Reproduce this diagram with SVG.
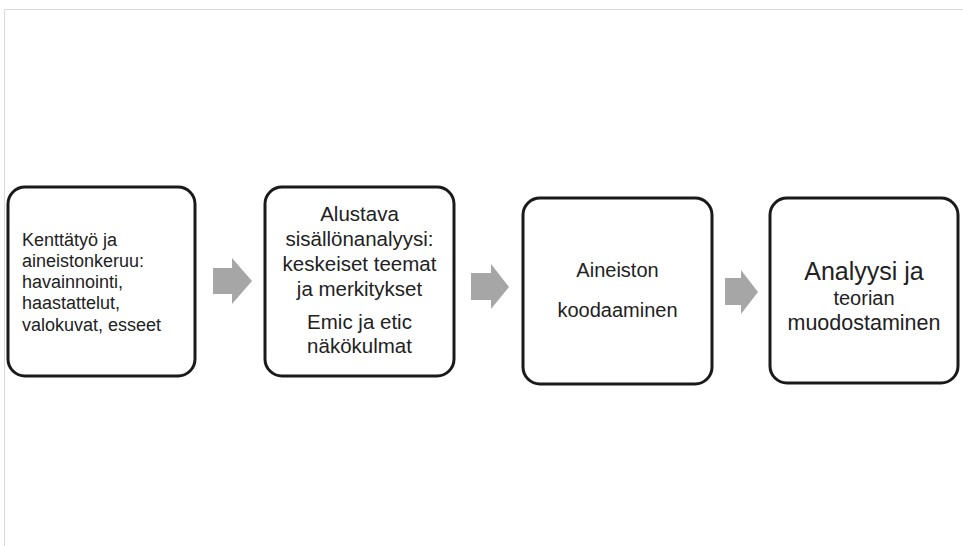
<svg xmlns="http://www.w3.org/2000/svg" width="963" height="546" viewBox="0 0 963 546">
<style>
.box{fill:#ffffff;stroke:#1a1a1a;stroke-width:3}
.arr{fill:#a6a6a6}
text{font-family:"Liberation Sans",Arial,sans-serif;fill:#222222}
.c{text-anchor:middle}
</style>
<rect width="963" height="546" fill="#ffffff"/>
<path d="M4.5 546 V9.5 H963" fill="none" stroke="#d9d9d9" stroke-width="1"/>
<g id="connectors">
<polygon class="arr" points="213,268 232,268 232,258 252,281 232,304 232,294 213,294"/>
<polygon class="arr" points="471,273 491,273 491,264 509,287 491,309 491,300 471,300"/>
<polygon class="arr" points="725,278 741,278 741,270 758,292 741,314 741,305 725,305"/>
</g>
<g id="node1">
<rect class="box" x="8" y="187" width="187" height="189" rx="17"/>
<text font-size="18"><tspan x="22" y="246">Kenttätyö ja</tspan><tspan x="22" y="267">aineistonkeruu:</tspan><tspan x="22" y="288">havainnointi,</tspan><tspan x="22" y="309">haastattelut,</tspan><tspan x="22" y="331">valokuvat, esseet</tspan></text>
</g>
<g id="node2">
<rect class="box" x="265" y="187" width="189" height="189" rx="17"/>
<text class="c" font-size="20.5"><tspan x="359.5" y="221">Alustava</tspan><tspan x="359.5" y="246">sisällönanalyysi:</tspan><tspan x="359.5" y="271">keskeiset teemat</tspan><tspan x="359.5" y="296">ja merkitykset</tspan><tspan x="359.5" y="329">Emic ja etic</tspan><tspan x="359.5" y="353">näkökulmat</tspan></text>
</g>
<g id="node3">
<rect class="box" x="523" y="198" width="189" height="186" rx="17"/>
<text class="c" font-size="20"><tspan x="617.5" y="277">Aineiston</tspan><tspan x="617.5" y="317">koodaaminen</tspan></text>
</g>
<g id="node4">
<rect class="box" x="770" y="198" width="188" height="185" rx="17"/>
<text class="c"><tspan x="864" y="280" font-size="25">Analyysi ja</tspan><tspan x="864" y="305" font-size="20">teorian</tspan><tspan x="864" y="330" font-size="21.5">muodostaminen</tspan></text>
</g>
</svg>
